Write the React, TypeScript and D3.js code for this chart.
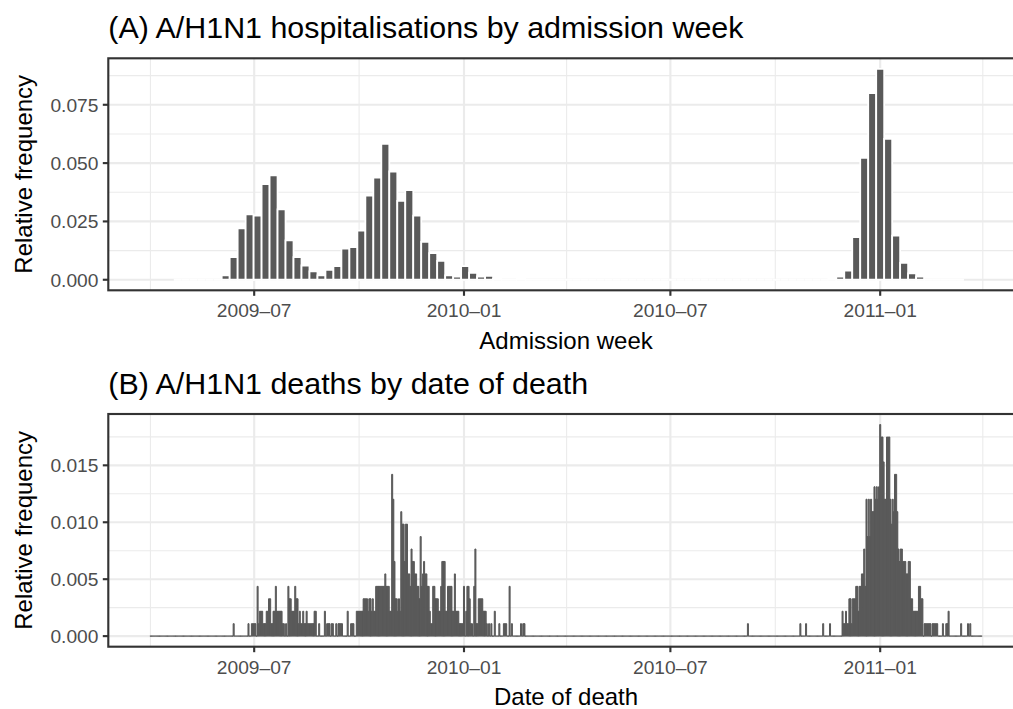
import React from "react";
import * as d3 from "d3";

// Weekly share of A/H1N1 hospitalisations (week centres, 7-day steps)
const admissionFirstWeek = "2009-04-25";
const admissionShare = [
  0, 0, 0, 0, 0, 0,
  0.0019, 0.0097, 0.022, 0.028, 0.0275, 0.041, 0.0447, 0.0302, 0.0169, 0.0097,
  0.0061, 0.0036, 0.0019, 0.0042, 0.0058, 0.0133, 0.014, 0.0211, 0.0361, 0.0438,
  0.0582, 0.0464, 0.0338, 0.0384, 0.0275, 0.0162, 0.0114, 0.0081, 0.0019, 0.0013,
  0.0058, 0.003, 0.0014, 0.0017, 0.0004, 0, 0, 0.0004,
  0, 0, 0, 0, 0, 0, 0, 0, 0, 0, 0, 0, 0, 0, 0, 0, 0, 0, 0,
  0, 0, 0, 0, 0, 0, 0, 0, 0, 0, 0, 0, 0, 0, 0, 0, 0, 0, 0,
  0.0007, 0.0013, 0.0039, 0.0183, 0.0523, 0.08, 0.0904, 0.0604, 0.0189, 0.0072,
  0.0027, 0.0013, 0, 0, 0, 0, 0,
];

// Daily deaths; days outside the two waves had none
const deathDayFirst = "2009-04-01";
const deathDayLast = "2011-03-31";
const wave2009Start = "2009-06-13";
const wave2009Deaths = [
  1, 0, 0, 0, 0, 0, 0, 0, 0, 0, 0, 0, 0, 1, 0, 0, 1, 1, 1, 1,
  0, 4, 1, 2, 2, 2, 1, 1, 1, 2, 2, 3, 3, 1, 1, 2, 2, 4, 2, 2,
  2, 2, 2, 1, 1, 0, 1, 0, 4, 3, 3, 2, 2, 2, 4, 3, 3, 1, 2, 1,
  1, 2, 1, 1, 2, 1, 1, 1, 1, 1, 1, 2, 2, 0, 0, 1, 0, 0, 0, 0,
  2, 0, 1, 1, 1, 0, 1, 1, 0, 0, 1, 0, 1, 1, 1, 1, 0, 0, 0, 0,
  2, 0, 0, 1, 1, 1, 0, 0, 2, 2, 2, 2, 2, 2, 3, 3, 3, 3, 2, 3,
  3, 2, 3, 2, 2, 4, 4, 4, 4, 4, 4, 4, 4, 5, 4, 4, 4, 2, 2, 13,
  11, 6, 3, 3, 2, 3, 2, 10, 9, 9, 6, 9, 9, 5, 5, 4, 7, 6, 6, 5,
  5, 4, 4, 3, 8, 4, 5, 6, 5, 5, 4, 4, 2, 1, 1, 4, 4, 3, 3, 3,
  2, 2, 4, 6, 6, 6, 2, 2, 4, 4, 4, 4, 2, 2, 5, 2, 2, 2, 1, 1,
  1, 1, 4, 0, 2, 4, 4, 3, 1, 1, 0, 4, 7, 1, 1, 3, 3, 3, 3, 2,
  2, 2, 1, 0, 1, 0, 1, 0, 0, 2, 0, 0, 0, 1, 0, 0, 0, 1, 1, 1,
  0, 0, 4, 0, 1, 0, 0, 0, 0, 0, 0, 0, 1, 0, 1, 1,
];
const wave2010Start = "2010-09-07";
const wave2010Deaths = [
  1, 0, 0, 0, 0, 0, 0, 0, 0, 0, 0, 0, 0, 0, 0, 0, 0, 0, 0, 0,
  0, 0, 0, 0, 0, 0, 0, 0, 0, 0, 0, 0, 0, 0, 0, 0, 0, 0, 0, 0,
  0, 0, 0, 0, 0, 0, 1, 0, 0, 0, 0, 1, 0, 0, 0, 0, 0, 0, 0, 0,
  0, 0, 0, 0, 0, 0, 1, 0, 0, 0, 0, 0, 1, 0, 0, 0, 0, 0, 0, 0,
  0, 0, 0, 2, 1, 1, 2, 1, 1, 3, 3, 1, 3, 3, 3, 4, 4, 2, 4, 4,
  5, 5, 7, 4, 11, 8, 11, 8, 11, 10, 10, 12, 11, 12, 11, 12, 17, 16, 16, 14,
  11, 11, 16, 16, 16, 11, 9, 11, 10, 13, 13, 10, 7, 6, 7, 7, 6, 6, 6, 5,
  5, 6, 6, 3, 3, 2, 2, 2, 2, 2, 4, 4, 3, 3, 0, 1, 1, 1, 1, 1,
  1, 0, 1, 1, 1, 1, 1, 0, 0, 0, 0, 1, 0, 0, 1, 1, 2, 0, 0, 0,
  0, 0, 0, 0, 0, 0, 0, 1, 0, 0, 0, 0, 0, 1, 0, 1,
];
const totalDeaths = 915;

const dateTicks = ["2009-07-01", "2010-01-01", "2010-07-01", "2011-01-01"];
const dateMinorTicks = ["2009-04-01", "2009-10-01", "2010-04-01", "2010-10-01", "2011-04-01"];
const hospTicks = [0, 0.025, 0.05, 0.075];
const hospMinorTicks = [0.0125, 0.0375, 0.0625, 0.0875];
const deathTicks = [0, 0.005, 0.01, 0.015];
const deathMinorTicks = [0.0025, 0.0075, 0.0125, 0.0175];

const parse = d3.utcParse("%Y-%m-%d");
const DAY = 864e5;
const FONT = "'Liberation Sans', Arial, Helvetica, sans-serif";
const BAR = "#595959";
const GRID = "#EBEBEB";
const INK = "#333333";
const TICK_TEXT = "#4D4D4D";

const W = 1013;
const H = 709;
const PANEL_LEFT = 108.3;
const PANEL_RIGHT = 1023.8;
const TICK_LEN = 5.5;
const TITLE_SIZE = 30.4;
const AXIS_TITLE_SIZE = 24;
const TICK_SIZE = 19.2;

type Bar = { date: Date; value: number };

function buildDeaths(): Bar[] {
  const first = parse(deathDayFirst)!;
  const last = parse(deathDayLast)!;
  const lookup = new Map<number, number>();
  const waves: [string, number[]][] = [
    [wave2009Start, wave2009Deaths],
    [wave2010Start, wave2010Deaths],
  ];
  for (const [start, counts] of waves) {
    const s = parse(start)!;
    counts.forEach((c, i) => lookup.set(+d3.utcDay.offset(s, i), c));
  }
  return d3.utcDay.range(first, d3.utcDay.offset(last, 1)).map((d) => ({
    date: d,
    value: (lookup.get(+d) ?? 0) / totalDeaths,
  }));
}

function buildAdmissions(): Bar[] {
  const s = parse(admissionFirstWeek)!;
  return admissionShare.map((v, i) => ({ date: d3.utcDay.offset(s, 7 * i), value: v }));
}

type PanelProps = {
  id: string;
  title: string;
  xTitle: string;
  top: number;
  bottom: number;
  bars: Bar[];
  barDays: number;
  barFill: string;
  barStroke: string;
  barStrokeWidth: number;
  yTicks: number[];
  yMinor: number[];
  x: d3.ScaleTime<number, number>;
};

function Panel(p: PanelProps) {
  const maxV = d3.max(p.bars, (b) => b.value) ?? 1;
  const y = d3
    .scaleLinear()
    .domain([-0.05 * maxV, 1.05 * maxV])
    .range([p.bottom, p.top]);
  const fmt = d3.format(".3f");
  const half = (p.barDays / 2) * DAY;
  const y0 = y(0);
  const midY = (p.top + p.bottom) / 2;

  return (
    <g>
      <defs>
        <clipPath id={`clip-${p.id}`}>
          <rect x={PANEL_LEFT} y={p.top} width={PANEL_RIGHT - PANEL_LEFT} height={p.bottom - p.top} />
        </clipPath>
      </defs>
      <text x={PANEL_LEFT} y={p.top - 20} fontSize={TITLE_SIZE} fill="#000">
        {p.title}
      </text>
      <rect x={PANEL_LEFT} y={p.top} width={PANEL_RIGHT - PANEL_LEFT} height={p.bottom - p.top} fill="#fff" />
      <g clipPath={`url(#clip-${p.id})`}>
        {p.yMinor.map((t) => (
          <line key={`ym${t}`} x1={PANEL_LEFT} x2={PANEL_RIGHT} y1={y(t)} y2={y(t)} stroke={GRID} strokeWidth={1.07} />
        ))}
        {dateMinorTicks.map((t) => (
          <line key={`xm${t}`} x1={p.x(parse(t)!)} x2={p.x(parse(t)!)} y1={p.top} y2={p.bottom} stroke={GRID} strokeWidth={1.07} />
        ))}
        {p.yTicks.map((t) => (
          <line key={`yg${t}`} x1={PANEL_LEFT} x2={PANEL_RIGHT} y1={y(t)} y2={y(t)} stroke={GRID} strokeWidth={2.13} />
        ))}
        {dateTicks.map((t) => (
          <line key={`xg${t}`} x1={p.x(parse(t)!)} x2={p.x(parse(t)!)} y1={p.top} y2={p.bottom} stroke={GRID} strokeWidth={2.13} />
        ))}
        {p.bars.map((b, i) => {
          const xa = p.x(new Date(+b.date - half));
          const xb = p.x(new Date(+b.date + half));
          const yt = y(b.value);
          return (
            <path
              key={i}
              d={`M${xa},${y0}H${xb}V${yt}H${xa}Z`}
              fill={p.barFill}
              stroke={p.barStroke}
              strokeWidth={p.barStrokeWidth}
            />
          );
        })}
      </g>
      <rect
        x={PANEL_LEFT}
        y={p.top}
        width={PANEL_RIGHT - PANEL_LEFT}
        height={p.bottom - p.top}
        fill="none"
        stroke={INK}
        strokeWidth={2.13}
      />
      {p.yTicks.map((t) => (
        <g key={`yt${t}`}>
          <line x1={PANEL_LEFT - TICK_LEN} x2={PANEL_LEFT} y1={y(t)} y2={y(t)} stroke={INK} strokeWidth={2.13} />
          <text x={PANEL_LEFT - TICK_LEN - 4.4} y={y(t)} dy="0.36em" textAnchor="end" fontSize={TICK_SIZE} fill={TICK_TEXT}>
            {fmt(t)}
          </text>
        </g>
      ))}
      {dateTicks.map((t) => {
        const xx = p.x(parse(t)!);
        return (
          <g key={`xt${t}`}>
            <line x1={xx} x2={xx} y1={p.bottom} y2={p.bottom + TICK_LEN} stroke={INK} strokeWidth={2.13} />
            <text x={xx} y={p.bottom + 27} textAnchor="middle" fontSize={TICK_SIZE} fill={TICK_TEXT}>
              {d3.utcFormat("%Y–%m")(parse(t)!)}
            </text>
          </g>
        );
      })}
      <text x={(PANEL_LEFT + PANEL_RIGHT) / 2} y={p.bottom + 58.5} textAnchor="middle" fontSize={AXIS_TITLE_SIZE} fill="#000">
        {p.xTitle}
      </text>
      <text transform={`translate(32,${midY}) rotate(-90)`} textAnchor="middle" fontSize={AXIS_TITLE_SIZE} fill="#000">
        Relative frequency
      </text>
    </g>
  );
}

export default function App() {
  const deaths = buildDeaths();
  const admissions = buildAdmissions();

  // shared date axis: death series range plus 5% padding either side
  const first = +deaths[0].date - 0.45 * DAY;
  const last = +deaths[deaths.length - 1].date + 0.45 * DAY;
  const pad = 0.05 * (last - first);
  const x = d3
    .scaleUtc()
    .domain([new Date(first - pad), new Date(last + pad)])
    .range([PANEL_LEFT, PANEL_RIGHT]);

  return (
    <div style={{ position: "absolute", left: 0, top: 0, width: W, height: H, overflow: "hidden" }}>
      <svg width={W} height={H} style={{ display: "block", fontFamily: FONT }}>
        <rect width={W} height={H} fill="#fff" />
        <Panel
          id="hosp"
          title="(A) A/H1N1 hospitalisations by admission week"
          xTitle="Admission week"
          top={58.3}
          bottom={290.3}
          bars={admissions}
          barDays={7}
          barFill={BAR}
          barStroke="#fff"
          barStrokeWidth={1.8}
          yTicks={hospTicks}
          yMinor={hospMinorTicks}
          x={x}
        />
        <Panel
          id="death"
          title="(B) A/H1N1 deaths by date of death"
          xTitle="Date of death"
          top={414}
          bottom={646.7}
          bars={deaths}
          barDays={0.9}
          barFill={BAR}
          barStroke={BAR}
          barStrokeWidth={1}
          yTicks={deathTicks}
          yMinor={deathMinorTicks}
          x={x}
        />
      </svg>
    </div>
  );
}
